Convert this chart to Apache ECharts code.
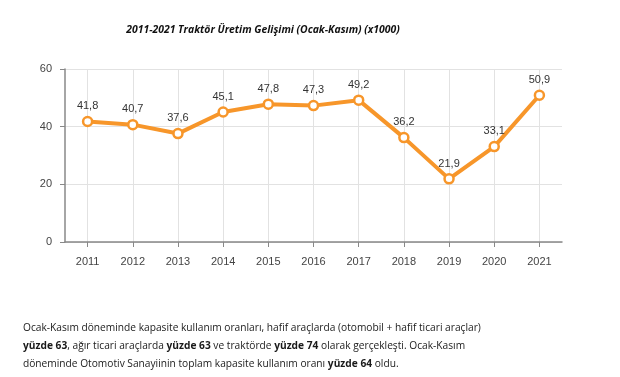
<!DOCTYPE html>
<html><head><meta charset="utf-8">
<script src="https://cdn.jsdelivr.net/npm/echarts@6/dist/echarts.min.js"></script>
<style>html,body{margin:0;padding:0;background:#fff}#c{width:620px;height:377px}</style>
</head><body><div id="c"></div>
<script>
const years = ['2011','2012','2013','2014','2015','2016','2017','2018','2019','2020','2021'];
const production = [41.8, 40.7, 37.6, 45.1, 47.8, 47.3, 49.2, 36.2, 21.9, 33.1, 50.9];
const yTicks = [0, 20, 40, 60];
const titleText = '2011-2021 Traktör Üretim Gelişimi (Ocak-Kasım) (x1000)';

const chart = echarts.init(document.getElementById('c'));
chart.setOption({
  backgroundColor: '#fff',
  animation: false,
  title: {
    text: titleText, left: 258, top: 20, textAlign: 'center',
    textStyle: {fontFamily: 'Open Sans', fontStyle: 'italic', fontWeight: 'bold', fontSize: 10.4, color: '#111'}
  },
  grid: {left: 65, right: 58, top: 69, bottom: 135},
  xAxis: {
    type: 'category', data: years, boundaryGap: true,
    axisLine: {lineStyle: {color: '#888', width: 1.5}},
    axisTick: {show: true, alignWithLabel: true, length: 5, lineStyle: {color: '#888'}},
    axisLabel: {color: '#444', fontFamily: 'Arial, Liberation Sans', fontSize: 11, margin: 14},
    splitLine: {show: true, alignWithLabel: true, lineStyle: {color: '#e2e2e2'}}
  },
  yAxis: {
    type: 'value', min: yTicks[0], max: yTicks[yTicks.length-1], interval: 20,
    axisLine: {show: true, lineStyle: {color: '#888', width: 1.5}},
    axisTick: {show: true, length: 5, lineStyle: {color: '#888'}},
    axisLabel: {color: '#444', fontFamily: 'Arial, Liberation Sans', fontSize: 11, margin: 13},
    splitLine: {show: true, lineStyle: {color: '#e2e2e2'}}
  },
  series: [{
    type: 'line', data: production,
    lineStyle: {color: '#F7962A', width: 4},
    itemStyle: {color: '#fff', borderColor: '#F7962A', borderWidth: 2.5},
    symbol: 'circle', symbolSize: 9,
    label: {show: true, position: 'top', distance: 4, color: '#333', fontFamily: 'Arial, Liberation Sans', fontSize: 11,
      formatter: p => String(p.value).replace('.', ',')}
  }],
  graphic: [{
    type: 'text', left: 23, top: 319,
    style: {
      text: 'Ocak-Kasım döneminde kapasite kullanım oranları, hafif araçlarda (otomobil + hafif ticari araçlar)\n' +
            '{b|yüzde 63}, ağır ticari araçlarda {b|yüzde 63} ve traktörde {b|yüzde 74} olarak gerçekleşti. Ocak-Kasım\n' +
            'döneminde Otomotiv Sanayiinin toplam kapasite kullanım oranı {b|yüzde 64} oldu.',
      fontFamily: 'Open Sans', fontSize: 10.2, lineHeight: 18, fill: '#1a1a1a',
      rich: {b: {fontFamily: 'Open Sans', fontWeight: 'bold', fontSize: 10.2, lineHeight: 18, fill: '#1a1a1a'}}
    }
  }]
});
</script></body></html>
